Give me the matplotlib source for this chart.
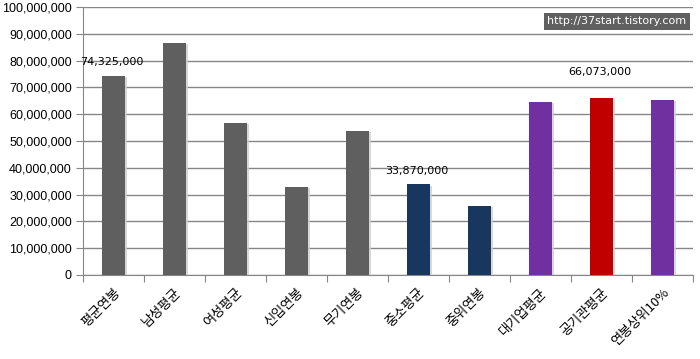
import matplotlib.pyplot as plt
import matplotlib.patheffects as pe
from matplotlib.ticker import FuncFormatter, MultipleLocator

plt.rcParams['font.family'] = ['Noto Sans CJK KR', 'DejaVu Sans']

categories = ['평균연봉', '남성평균', '여성평균', '신입연봉', '무기연봉',
              '중소평균', '중위연봉', '대기업평균', '공기관평균', '연봉상위10%']
values = [74325000, 86700000, 56800000, 33000000, 53800000,
          33870000, 25900000, 64700000, 66073000, 65400000]
colors = ['#5f5f5f'] * 5 + ['#17375e'] * 2 + ['#7030a0', '#c00000', '#7030a0']
labels = {0: (74325000, 6), 5: (33870000, 6), 8: (66073000, 15)}

fig = plt.figure(figsize=(7, 3.59), dpi=100)
ax = fig.add_axes([0.1186, 0.234, 0.871, 0.7465])

x = range(len(categories))
bars = ax.bar(x, values, width=0.38, color=colors, zorder=3)
for b in bars:
    b.set_path_effects([pe.SimplePatchShadow(offset=(1.5, -1), shadow_rgbFace='#cfcfcf', alpha=0.8),
                        pe.Normal()])

for i, (v, off) in labels.items():
    ax.annotate(f'{v:,}', (i, values[i]), xytext=(-1, off), textcoords='offset points',
                ha='center', va='bottom', fontsize=8, family='DejaVu Sans')

ax.set_ylim(0, 100000000)
ax.set_xlim(-0.5, len(categories) - 0.5)
ax.yaxis.set_major_locator(MultipleLocator(10000000))
ax.yaxis.set_major_formatter(FuncFormatter(lambda v, p: f'{int(v):,}'))
ax.grid(axis='y', color='#868686', linewidth=1, zorder=0)

ax.set_xticks([i - 0.5 for i in range(len(categories) + 1)])
ax.set_xticklabels([])
ax.set_xticks(list(x), minor=True)
ax.set_xticklabels(categories, minor=True, rotation=45, ha='right', rotation_mode='anchor',
                   fontsize=9.5)
ax.tick_params(axis='x', which='minor', length=0, pad=8)
ax.tick_params(axis='x', which='major', length=5, color='#868686')
ax.tick_params(axis='y', length=5, color='#868686', labelsize=9, pad=3)
for lab in ax.get_yticklabels():
    lab.set_family('Liberation Sans')

for s in ['top', 'right']:
    ax.spines[s].set_visible(False)
for s in ['left', 'bottom']:
    ax.spines[s].set_color('#868686')

fig.text(0.9807, 0.941, 'http://37start.tistory.com', ha='right', va='center', color='white',
         fontsize=8, family='DejaVu Sans',
         bbox=dict(boxstyle='square,pad=0.3', facecolor='#606060', edgecolor='none'))

fig.savefig('out.png', dpi=100)
